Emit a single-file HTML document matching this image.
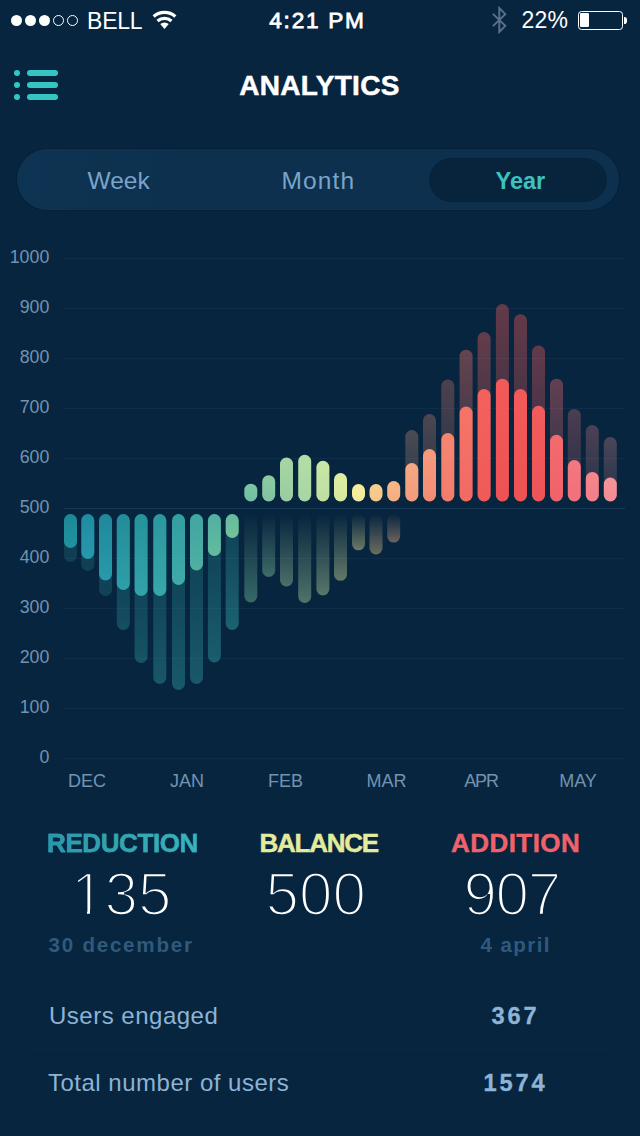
<!DOCTYPE html>
<html lang="en">
<head>
<meta charset="utf-8">
<title>Analytics</title>
<style>
*{margin:0;padding:0;box-sizing:border-box}
html,body{width:640px;height:1136px;overflow:hidden;background:#07253f}
body{font-family:"Liberation Sans",sans-serif;position:relative;color:#fff}
.abs{position:absolute;white-space:nowrap;line-height:1}
.chart{position:absolute;left:0;top:0}
/* status bar */
.dot{position:absolute;top:14.6px;width:11px;height:11px;border-radius:50%;background:#fff}
.dot.hol{background:transparent;border:1px solid #fff}
.carrier{left:87px;top:9.5px;font-size:23px;letter-spacing:-0.2px}
.time{left:0;width:635px;text-align:center;top:9.9px;font-size:22.6px;-webkit-text-stroke:0.8px #fff;letter-spacing:1.75px}
.pct{left:521.5px;top:9.3px;font-size:23px;letter-spacing:0.2px}
.batt{position:absolute;left:578px;top:10.8px;width:45.2px;height:18.8px;border:1.2px solid #fff;border-radius:3.5px}
.batt i{position:absolute;left:1.2px;top:1.2px;bottom:1.2px;width:9.2px;background:#fff;border-radius:1px}
.nub{position:absolute;left:624.3px;top:16.8px;width:2.8px;height:7px;background:#fff;border-radius:0 2.8px 2.8px 0}
/* header */
.title{left:0;width:639px;text-align:center;top:71.7px;font-size:28px;font-weight:bold;-webkit-text-stroke:0.5px #fff;letter-spacing:0.3px}
.menu i{position:absolute;left:14px;width:6.2px;height:6.2px;border-radius:50%;background:#35c5c3}
.menu b{position:absolute;left:26.5px;width:31.5px;height:6.2px;border-radius:3.1px;background:#35c5c3}
/* segmented */
.seg{position:absolute;left:17px;top:149px;width:602px;height:61px;border-radius:30.5px;background:linear-gradient(90deg,#0e3453 0%,#0c304e 30%,#0c304e 100%);box-shadow:0 0 0 1px rgba(4,22,40,0.35)}
.sel{position:absolute;left:429px;top:157.5px;width:178px;height:44px;border-radius:22px;background:#07243c}
.tab{font-size:24.5px;color:#7aa3c8;top:168.8px}
.tab.on{color:#3fc1c0;font-weight:bold;font-size:23.5px;top:169.8px}
/* stats */
.hd{font-size:26px;font-weight:bold;top:830px;-webkit-text-stroke:0.45px currentColor}
.num{font-size:60.2px;top:864.6px;color:#fff;-webkit-text-stroke:2.6px #07253f}
.cv{position:absolute;top:909.4px;height:7px;background:#07253f}
.sub{font-size:20.6px;font-weight:bold;color:#2f5a7c;top:934.6px}
.row{font-size:24px;color:#8db3d5;letter-spacing:0.5px}
.val{font-size:23.6px;font-weight:bold;color:#8db3d5;text-align:center;width:120px;left:455.6px;letter-spacing:2.9px;-webkit-text-stroke:0.35px #8db3d5}
.sep{position:absolute;left:32px;width:576px;height:1px;background:#6fa0c8;opacity:0.04}
</style>
</head>
<body>
<svg class="chart" width="640" height="1136" viewBox="0 0 640 1136">
<defs>
<linearGradient id="glow" gradientUnits="userSpaceOnUse" x1="0" y1="514" x2="0" y2="690"><stop offset="0" stop-color="#35b0b2" stop-opacity="0.10"/><stop offset="0.45" stop-color="#35b0b2" stop-opacity="0.33"/><stop offset="1" stop-color="#35b0b2" stop-opacity="0.40"/></linearGradient>
<linearGradient id="b1" x1="0" y1="0" x2="0" y2="1"><stop offset="0" stop-color="#1e8894" stop-opacity="1"/><stop offset="1" stop-color="#2092a3" stop-opacity="1"/></linearGradient>
<linearGradient id="g1" gradientUnits="userSpaceOnUse" x1="0" y1="548" x2="0" y2="562"><stop offset="0" stop-color="#35b0b2" stop-opacity="0.18"/><stop offset="1" stop-color="#35b0b2" stop-opacity="0.18"/></linearGradient>
<linearGradient id="b2" x1="0" y1="0" x2="0" y2="1"><stop offset="0" stop-color="#1f8ba0" stop-opacity="1"/><stop offset="1" stop-color="#2898ae" stop-opacity="1"/></linearGradient>
<linearGradient id="g2" gradientUnits="userSpaceOnUse" x1="0" y1="559" x2="0" y2="571"><stop offset="0" stop-color="#35b0b2" stop-opacity="0.19"/><stop offset="1" stop-color="#35b0b2" stop-opacity="0.19"/></linearGradient>
<linearGradient id="b3" x1="0" y1="0" x2="0" y2="1"><stop offset="0" stop-color="#1f889a" stop-opacity="1"/><stop offset="1" stop-color="#289aaa" stop-opacity="1"/></linearGradient>
<linearGradient id="g3" gradientUnits="userSpaceOnUse" x1="0" y1="580.5" x2="0" y2="596"><stop offset="0" stop-color="#35b0b2" stop-opacity="0.21"/><stop offset="1" stop-color="#35b0b2" stop-opacity="0.21"/></linearGradient>
<linearGradient id="b4" x1="0" y1="0" x2="0" y2="1"><stop offset="0" stop-color="#228d9a" stop-opacity="1"/><stop offset="1" stop-color="#2d9fa8" stop-opacity="1"/></linearGradient>
<linearGradient id="g4" gradientUnits="userSpaceOnUse" x1="0" y1="590" x2="0" y2="630"><stop offset="0" stop-color="#35b0b2" stop-opacity="0.23"/><stop offset="1" stop-color="#35b0b2" stop-opacity="0.3"/></linearGradient>
<linearGradient id="b5" x1="0" y1="0" x2="0" y2="1"><stop offset="0" stop-color="#25929c" stop-opacity="1"/><stop offset="1" stop-color="#32a3a8" stop-opacity="1"/></linearGradient>
<linearGradient id="g5" gradientUnits="userSpaceOnUse" x1="0" y1="596" x2="0" y2="663"><stop offset="0" stop-color="#35b0b2" stop-opacity="0.23"/><stop offset="1" stop-color="#35b0b2" stop-opacity="0.33"/></linearGradient>
<linearGradient id="b6" x1="0" y1="0" x2="0" y2="1"><stop offset="0" stop-color="#2b979f" stop-opacity="1"/><stop offset="1" stop-color="#37a7a9" stop-opacity="1"/></linearGradient>
<linearGradient id="g6" gradientUnits="userSpaceOnUse" x1="0" y1="596" x2="0" y2="684"><stop offset="0" stop-color="#35b0b2" stop-opacity="0.23"/><stop offset="1" stop-color="#35b0b2" stop-opacity="0.36"/></linearGradient>
<linearGradient id="b7" x1="0" y1="0" x2="0" y2="1"><stop offset="0" stop-color="#339da1" stop-opacity="1"/><stop offset="1" stop-color="#3faaa8" stop-opacity="1"/></linearGradient>
<linearGradient id="g7" gradientUnits="userSpaceOnUse" x1="0" y1="585" x2="0" y2="690"><stop offset="0" stop-color="#35b0b2" stop-opacity="0.23"/><stop offset="1" stop-color="#35b0b2" stop-opacity="0.37"/></linearGradient>
<linearGradient id="b8" x1="0" y1="0" x2="0" y2="1"><stop offset="0" stop-color="#41a5a2" stop-opacity="1"/><stop offset="1" stop-color="#4fb0a2" stop-opacity="1"/></linearGradient>
<linearGradient id="g8" gradientUnits="userSpaceOnUse" x1="0" y1="570.5" x2="0" y2="684"><stop offset="0" stop-color="#35b0b2" stop-opacity="0.23"/><stop offset="1" stop-color="#35b0b2" stop-opacity="0.37"/></linearGradient>
<linearGradient id="b9" x1="0" y1="0" x2="0" y2="1"><stop offset="0" stop-color="#52b0a2" stop-opacity="1"/><stop offset="1" stop-color="#62bc9e" stop-opacity="1"/></linearGradient>
<linearGradient id="g9" gradientUnits="userSpaceOnUse" x1="0" y1="556" x2="0" y2="662.5"><stop offset="0" stop-color="#35b0b2" stop-opacity="0.23"/><stop offset="1" stop-color="#35b0b2" stop-opacity="0.4"/></linearGradient>
<linearGradient id="b10" x1="0" y1="0" x2="0" y2="1"><stop offset="0" stop-color="#64ba9e" stop-opacity="1"/><stop offset="1" stop-color="#74c498" stop-opacity="1"/></linearGradient>
<linearGradient id="g10" gradientUnits="userSpaceOnUse" x1="0" y1="538" x2="0" y2="630"><stop offset="0" stop-color="#35b0b2" stop-opacity="0.23"/><stop offset="1" stop-color="#35b0b2" stop-opacity="0.44"/></linearGradient>
<linearGradient id="b11" x1="0" y1="0" x2="0" y2="1"><stop offset="0" stop-color="#7cc6a0" stop-opacity="1"/><stop offset="1" stop-color="#70bea4" stop-opacity="1"/></linearGradient>
<linearGradient id="g11" x1="0" y1="0" x2="0" y2="1"><stop offset="0" stop-color="#7cc6a0" stop-opacity="0.0"/><stop offset="1" stop-color="#7cc6a0" stop-opacity="0.42"/></linearGradient>
<linearGradient id="b12" x1="0" y1="0" x2="0" y2="1"><stop offset="0" stop-color="#8ccba0" stop-opacity="1"/><stop offset="1" stop-color="#82c2a5" stop-opacity="1"/></linearGradient>
<linearGradient id="g12" x1="0" y1="0" x2="0" y2="1"><stop offset="0" stop-color="#8ccba0" stop-opacity="0.0"/><stop offset="1" stop-color="#8ccba0" stop-opacity="0.42"/></linearGradient>
<linearGradient id="b13" x1="0" y1="0" x2="0" y2="1"><stop offset="0" stop-color="#a6d6a2" stop-opacity="1"/><stop offset="1" stop-color="#9acca4" stop-opacity="1"/></linearGradient>
<linearGradient id="g13" x1="0" y1="0" x2="0" y2="1"><stop offset="0" stop-color="#a6d6a2" stop-opacity="0.0"/><stop offset="1" stop-color="#a6d6a2" stop-opacity="0.42"/></linearGradient>
<linearGradient id="b14" x1="0" y1="0" x2="0" y2="1"><stop offset="0" stop-color="#b5dea5" stop-opacity="1"/><stop offset="1" stop-color="#a8d5a5" stop-opacity="1"/></linearGradient>
<linearGradient id="g14" x1="0" y1="0" x2="0" y2="1"><stop offset="0" stop-color="#b5dea5" stop-opacity="0.0"/><stop offset="1" stop-color="#b5dea5" stop-opacity="0.42"/></linearGradient>
<linearGradient id="b15" x1="0" y1="0" x2="0" y2="1"><stop offset="0" stop-color="#c9e6a3" stop-opacity="1"/><stop offset="1" stop-color="#bfdfa3" stop-opacity="1"/></linearGradient>
<linearGradient id="g15" x1="0" y1="0" x2="0" y2="1"><stop offset="0" stop-color="#c9e6a3" stop-opacity="0.0"/><stop offset="1" stop-color="#c9e6a3" stop-opacity="0.42"/></linearGradient>
<linearGradient id="b16" x1="0" y1="0" x2="0" y2="1"><stop offset="0" stop-color="#e0eda0" stop-opacity="1"/><stop offset="1" stop-color="#d5e8a0" stop-opacity="1"/></linearGradient>
<linearGradient id="g16" x1="0" y1="0" x2="0" y2="1"><stop offset="0" stop-color="#e0eda0" stop-opacity="0.0"/><stop offset="1" stop-color="#e0eda0" stop-opacity="0.42"/></linearGradient>
<linearGradient id="b17" x1="0" y1="0" x2="0" y2="1"><stop offset="0" stop-color="#f7ee9a" stop-opacity="1"/><stop offset="1" stop-color="#f0e8a0" stop-opacity="1"/></linearGradient>
<linearGradient id="g17" x1="0" y1="0" x2="0" y2="1"><stop offset="0" stop-color="#f7ee9a" stop-opacity="0.0"/><stop offset="1" stop-color="#f7ee9a" stop-opacity="0.42"/></linearGradient>
<linearGradient id="b18" x1="0" y1="0" x2="0" y2="1"><stop offset="0" stop-color="#f9cf8c" stop-opacity="1"/><stop offset="1" stop-color="#f5c48a" stop-opacity="1"/></linearGradient>
<linearGradient id="g18" x1="0" y1="0" x2="0" y2="1"><stop offset="0" stop-color="#f9cf8c" stop-opacity="0.0"/><stop offset="1" stop-color="#f9cf8c" stop-opacity="0.42"/></linearGradient>
<linearGradient id="b19" x1="0" y1="0" x2="0" y2="1"><stop offset="0" stop-color="#f8b886" stop-opacity="1"/><stop offset="1" stop-color="#f3ad80" stop-opacity="1"/></linearGradient>
<linearGradient id="g19" x1="0" y1="0" x2="0" y2="1"><stop offset="0" stop-color="#f8b886" stop-opacity="0.0"/><stop offset="1" stop-color="#f8b886" stop-opacity="0.42"/></linearGradient>
<linearGradient id="b20" x1="0" y1="0" x2="0" y2="1"><stop offset="0" stop-color="#f6a884" stop-opacity="1"/><stop offset="1" stop-color="#f29c7c" stop-opacity="1"/></linearGradient>
<linearGradient id="g20" x1="0" y1="0" x2="0" y2="1"><stop offset="0" stop-color="#f6a884" stop-opacity="0.29"/><stop offset="1" stop-color="#f6a884" stop-opacity="0.12"/></linearGradient>
<linearGradient id="b21" x1="0" y1="0" x2="0" y2="1"><stop offset="0" stop-color="#f59a7c" stop-opacity="1"/><stop offset="1" stop-color="#f28c74" stop-opacity="1"/></linearGradient>
<linearGradient id="g21" x1="0" y1="0" x2="0" y2="1"><stop offset="0" stop-color="#f59a7c" stop-opacity="0.29"/><stop offset="1" stop-color="#f59a7c" stop-opacity="0.12"/></linearGradient>
<linearGradient id="b22" x1="0" y1="0" x2="0" y2="1"><stop offset="0" stop-color="#f58670" stop-opacity="1"/><stop offset="1" stop-color="#f27c6c" stop-opacity="1"/></linearGradient>
<linearGradient id="g22" x1="0" y1="0" x2="0" y2="1"><stop offset="0" stop-color="#f58670" stop-opacity="0.29"/><stop offset="1" stop-color="#f58670" stop-opacity="0.12"/></linearGradient>
<linearGradient id="b23" x1="0" y1="0" x2="0" y2="1"><stop offset="0" stop-color="#f57468" stop-opacity="1"/><stop offset="1" stop-color="#f26a62" stop-opacity="1"/></linearGradient>
<linearGradient id="g23" x1="0" y1="0" x2="0" y2="1"><stop offset="0" stop-color="#f57468" stop-opacity="0.39"/><stop offset="1" stop-color="#f57468" stop-opacity="0.15"/></linearGradient>
<linearGradient id="b24" x1="0" y1="0" x2="0" y2="1"><stop offset="0" stop-color="#f4625c" stop-opacity="1"/><stop offset="1" stop-color="#f05a58" stop-opacity="1"/></linearGradient>
<linearGradient id="g24" x1="0" y1="0" x2="0" y2="1"><stop offset="0" stop-color="#f4625c" stop-opacity="0.39"/><stop offset="1" stop-color="#f4625c" stop-opacity="0.15"/></linearGradient>
<linearGradient id="b25" x1="0" y1="0" x2="0" y2="1"><stop offset="0" stop-color="#f25a58" stop-opacity="1"/><stop offset="1" stop-color="#ee5254" stop-opacity="1"/></linearGradient>
<linearGradient id="g25" x1="0" y1="0" x2="0" y2="1"><stop offset="0" stop-color="#f25a58" stop-opacity="0.39"/><stop offset="1" stop-color="#f25a58" stop-opacity="0.15"/></linearGradient>
<linearGradient id="b26" x1="0" y1="0" x2="0" y2="1"><stop offset="0" stop-color="#f25a58" stop-opacity="1"/><stop offset="1" stop-color="#ee5254" stop-opacity="1"/></linearGradient>
<linearGradient id="g26" x1="0" y1="0" x2="0" y2="1"><stop offset="0" stop-color="#f25a58" stop-opacity="0.39"/><stop offset="1" stop-color="#f25a58" stop-opacity="0.15"/></linearGradient>
<linearGradient id="b27" x1="0" y1="0" x2="0" y2="1"><stop offset="0" stop-color="#f25c5c" stop-opacity="1"/><stop offset="1" stop-color="#ee5458" stop-opacity="1"/></linearGradient>
<linearGradient id="g27" x1="0" y1="0" x2="0" y2="1"><stop offset="0" stop-color="#f25c5c" stop-opacity="0.39"/><stop offset="1" stop-color="#f25c5c" stop-opacity="0.15"/></linearGradient>
<linearGradient id="b28" x1="0" y1="0" x2="0" y2="1"><stop offset="0" stop-color="#f36a6e" stop-opacity="1"/><stop offset="1" stop-color="#f0626a" stop-opacity="1"/></linearGradient>
<linearGradient id="g28" x1="0" y1="0" x2="0" y2="1"><stop offset="0" stop-color="#f36a6e" stop-opacity="0.39"/><stop offset="1" stop-color="#f36a6e" stop-opacity="0.15"/></linearGradient>
<linearGradient id="b29" x1="0" y1="0" x2="0" y2="1"><stop offset="0" stop-color="#f4787e" stop-opacity="1"/><stop offset="1" stop-color="#f2707a" stop-opacity="1"/></linearGradient>
<linearGradient id="g29" x1="0" y1="0" x2="0" y2="1"><stop offset="0" stop-color="#f4787e" stop-opacity="0.29"/><stop offset="1" stop-color="#f4787e" stop-opacity="0.12"/></linearGradient>
<linearGradient id="b30" x1="0" y1="0" x2="0" y2="1"><stop offset="0" stop-color="#f5868c" stop-opacity="1"/><stop offset="1" stop-color="#f47e88" stop-opacity="1"/></linearGradient>
<linearGradient id="g30" x1="0" y1="0" x2="0" y2="1"><stop offset="0" stop-color="#f5868c" stop-opacity="0.29"/><stop offset="1" stop-color="#f5868c" stop-opacity="0.12"/></linearGradient>
<linearGradient id="b31" x1="0" y1="0" x2="0" y2="1"><stop offset="0" stop-color="#f69498" stop-opacity="1"/><stop offset="1" stop-color="#f48c94" stop-opacity="1"/></linearGradient>
<linearGradient id="g31" x1="0" y1="0" x2="0" y2="1"><stop offset="0" stop-color="#f69498" stop-opacity="0.29"/><stop offset="1" stop-color="#f69498" stop-opacity="0.12"/></linearGradient>
</defs>
<g><rect x="64" y="258" width="561" height="1" fill="#6fa0c8" opacity="0.07"/>
<rect x="64" y="308" width="561" height="1" fill="#6fa0c8" opacity="0.07"/>
<rect x="64" y="358" width="561" height="1" fill="#6fa0c8" opacity="0.07"/>
<rect x="64" y="408" width="561" height="1" fill="#6fa0c8" opacity="0.07"/>
<rect x="64" y="458" width="561" height="1" fill="#6fa0c8" opacity="0.07"/>
<rect x="64" y="508" width="561" height="1" fill="#6fa0c8" opacity="0.17"/>
<rect x="64" y="558" width="561" height="1" fill="#6fa0c8" opacity="0.07"/>
<rect x="64" y="608" width="561" height="1" fill="#6fa0c8" opacity="0.07"/>
<rect x="64" y="658" width="561" height="1" fill="#6fa0c8" opacity="0.07"/>
<rect x="64" y="708" width="561" height="1" fill="#6fa0c8" opacity="0.07"/>
<rect x="64" y="758" width="561" height="1" fill="#6fa0c8" opacity="0.07"/></g>
<g font-family="Liberation Sans, sans-serif" font-size="17.8" fill="#7393af"><text x="49.3" y="262.6" text-anchor="end">1000</text>
<text x="49.3" y="312.6" text-anchor="end">900</text>
<text x="49.3" y="362.6" text-anchor="end">800</text>
<text x="49.3" y="412.6" text-anchor="end">700</text>
<text x="49.3" y="462.6" text-anchor="end">600</text>
<text x="49.3" y="512.6" text-anchor="end">500</text>
<text x="49.3" y="562.6" text-anchor="end">400</text>
<text x="49.3" y="612.6" text-anchor="end">300</text>
<text x="49.3" y="662.6" text-anchor="end">200</text>
<text x="49.3" y="712.6" text-anchor="end">100</text>
<text x="49.3" y="762.6" text-anchor="end">0</text></g>
<g font-family="Liberation Sans, sans-serif" font-size="18" fill="#7393af"><text x="87" y="786.7" text-anchor="middle">DEC</text>
<text x="187" y="786.7" text-anchor="middle">JAN</text>
<text x="285.5" y="786.7" text-anchor="middle">FEB</text>
<text x="386.5" y="786.7" text-anchor="middle">MAR</text>
<text x="481" y="786.7" text-anchor="middle" letter-spacing="-1.2">APR</text>
<text x="578" y="786.7" text-anchor="middle">MAY</text></g>
<g><rect x="64" y="514" width="13" height="48" rx="6.5" fill="url(#g1)"/>
<rect x="81.3" y="514" width="13" height="57" rx="6.5" fill="url(#g2)"/>
<rect x="99" y="514" width="13" height="82" rx="6.5" fill="url(#g3)"/>
<rect x="116.8" y="514" width="13" height="116" rx="6.5" fill="url(#g4)"/>
<rect x="134.6" y="514" width="13" height="149" rx="6.5" fill="url(#g5)"/>
<rect x="153.3" y="514" width="13" height="170" rx="6.5" fill="url(#g6)"/>
<rect x="172" y="514" width="13" height="176" rx="6.5" fill="url(#g7)"/>
<rect x="190" y="514" width="13" height="170" rx="6.5" fill="url(#g8)"/>
<rect x="207.9" y="514" width="13" height="148.5" rx="6.5" fill="url(#g9)"/>
<rect x="225.7" y="514" width="13" height="116" rx="6.5" fill="url(#g10)"/>
<rect x="244.3" y="514" width="13" height="88.5" rx="6.5" fill="url(#g11)"/>
<rect x="262.2" y="514" width="13" height="63" rx="6.5" fill="url(#g12)"/>
<rect x="280" y="514" width="13" height="72.5" rx="6.5" fill="url(#g13)"/>
<rect x="298.2" y="514" width="13" height="89" rx="6.5" fill="url(#g14)"/>
<rect x="316.4" y="514" width="13" height="81.5" rx="6.5" fill="url(#g15)"/>
<rect x="334" y="514" width="13" height="66.8" rx="6.5" fill="url(#g16)"/>
<rect x="352" y="514" width="13" height="36.3" rx="6.5" fill="url(#g17)"/>
<rect x="369.5" y="514" width="13" height="40.5" rx="6.5" fill="url(#g18)"/>
<rect x="387.2" y="514" width="13" height="28.6" rx="6.5" fill="url(#g19)"/>
<rect x="405.3" y="430" width="13" height="71.5" rx="6.5" fill="url(#g20)"/>
<rect x="423" y="414" width="13" height="87.5" rx="6.5" fill="url(#g21)"/>
<rect x="441.3" y="379.4" width="13" height="122.1" rx="6.5" fill="url(#g22)"/>
<rect x="459.6" y="349.7" width="13" height="151.8" rx="6.5" fill="url(#g23)"/>
<rect x="477.6" y="332" width="13" height="169.5" rx="6.5" fill="url(#g24)"/>
<rect x="495.9" y="304" width="13" height="197.5" rx="6.5" fill="url(#g25)"/>
<rect x="514" y="314.2" width="13" height="187.3" rx="6.5" fill="url(#g26)"/>
<rect x="532" y="345.6" width="13" height="155.9" rx="6.5" fill="url(#g27)"/>
<rect x="550" y="378.7" width="13" height="122.8" rx="6.5" fill="url(#g28)"/>
<rect x="567.8" y="408.9" width="13" height="92.6" rx="6.5" fill="url(#g29)"/>
<rect x="585.8" y="425" width="13" height="76.5" rx="6.5" fill="url(#g30)"/>
<rect x="603.8" y="437" width="13" height="64.5" rx="6.5" fill="url(#g31)"/></g>
<g><rect x="64" y="514" width="13" height="34" rx="6.5" fill="url(#b1)"/>
<rect x="81.3" y="514" width="13" height="45" rx="6.5" fill="url(#b2)"/>
<rect x="99" y="514" width="13" height="66.5" rx="6.5" fill="url(#b3)"/>
<rect x="116.8" y="514" width="13" height="76" rx="6.5" fill="url(#b4)"/>
<rect x="134.6" y="514" width="13" height="82" rx="6.5" fill="url(#b5)"/>
<rect x="153.3" y="514" width="13" height="82" rx="6.5" fill="url(#b6)"/>
<rect x="172" y="514" width="13" height="71" rx="6.5" fill="url(#b7)"/>
<rect x="190" y="514" width="13" height="56.5" rx="6.5" fill="url(#b8)"/>
<rect x="207.9" y="514" width="13" height="42" rx="6.5" fill="url(#b9)"/>
<rect x="225.7" y="514" width="13" height="24" rx="6.5" fill="url(#b10)"/>
<rect x="244.3" y="483.7" width="13" height="17.8" rx="6.5" fill="url(#b11)"/>
<rect x="262.2" y="475.2" width="13" height="26.3" rx="6.5" fill="url(#b12)"/>
<rect x="280" y="457.5" width="13" height="44" rx="6.5" fill="url(#b13)"/>
<rect x="298.2" y="454.8" width="13" height="46.7" rx="6.5" fill="url(#b14)"/>
<rect x="316.4" y="460.8" width="13" height="40.7" rx="6.5" fill="url(#b15)"/>
<rect x="334" y="473.1" width="13" height="28.4" rx="6.5" fill="url(#b16)"/>
<rect x="352" y="484" width="13" height="17.5" rx="6.5" fill="url(#b17)"/>
<rect x="369.5" y="484" width="13" height="17.5" rx="6.5" fill="url(#b18)"/>
<rect x="387.2" y="481" width="13" height="20.5" rx="6.5" fill="url(#b19)"/>
<rect x="405.3" y="463" width="13" height="38.5" rx="6.5" fill="url(#b20)"/>
<rect x="423" y="449" width="13" height="52.5" rx="6.5" fill="url(#b21)"/>
<rect x="441.3" y="433" width="13" height="68.5" rx="6.5" fill="url(#b22)"/>
<rect x="459.6" y="406.6" width="13" height="94.9" rx="6.5" fill="url(#b23)"/>
<rect x="477.6" y="389" width="13" height="112.5" rx="6.5" fill="url(#b24)"/>
<rect x="495.9" y="378.7" width="13" height="122.8" rx="6.5" fill="url(#b25)"/>
<rect x="514" y="389" width="13" height="112.5" rx="6.5" fill="url(#b26)"/>
<rect x="532" y="405.8" width="13" height="95.7" rx="6.5" fill="url(#b27)"/>
<rect x="550" y="434.8" width="13" height="66.7" rx="6.5" fill="url(#b28)"/>
<rect x="567.8" y="460" width="13" height="41.5" rx="6.5" fill="url(#b29)"/>
<rect x="585.8" y="471.9" width="13" height="29.6" rx="6.5" fill="url(#b30)"/>
<rect x="603.8" y="477.6" width="13" height="23.9" rx="6.5" fill="url(#b31)"/></g>
</svg>
<!-- status bar -->
<span class="dot" style="left:10.6px"></span><span class="dot" style="left:24.6px"></span><span class="dot" style="left:38.6px"></span><span class="dot hol" style="left:52.6px"></span><span class="dot hol" style="left:66.8px"></span>
<span class="abs carrier">BELL</span>
<svg class="abs" style="left:152px;top:10px" width="25" height="20" viewBox="0 0 25 20"><g fill="none" stroke="#fff" stroke-width="3.2"><path d="M1.64 6.51 A16.55 16.55 0 0 1 23.36 6.51"/><path d="M5.51 10.96 A10.65 10.65 0 0 1 19.49 10.96"/></g><path d="M12.5 19.0 L8.24 14.09 A6.5 6.5 0 0 1 16.76 14.09 Z" fill="#fff"/></svg>
<span class="abs time">4:21 PM</span>
<svg class="abs" style="left:491px;top:6px" width="17" height="28" viewBox="0 0 17 28"><path d="M1.9 7.9 L14.3 19.8 L8.3 26 L8.3 2 L14.3 8.2 L1.9 20.1" fill="none" stroke="#5b7189" stroke-width="1.9" stroke-linejoin="miter"/></svg>
<span class="abs pct">22%</span>
<span class="batt"><i></i></span><span class="nub"></span>
<!-- header -->
<div class="menu"><i style="top:70px"></i><b style="top:70px"></b><i style="top:82px"></i><b style="top:82px"></b><i style="top:94px"></i><b style="top:94px"></b></div>
<span class="abs title">ANALYTICS</span>
<!-- segmented control -->
<div class="seg"></div><div class="sel"></div>
<span class="abs tab" style="left:87.5px">Week</span>
<span class="abs tab" style="left:281.6px;letter-spacing:1.1px">Month</span>
<span class="abs tab on" style="left:495.5px">Year</span>
<!-- stats -->
<span class="abs hd" style="left:47px;color:#2fa3b4;letter-spacing:-0.4px;background:linear-gradient(90deg,#2a96aa,#39b6ba);-webkit-background-clip:text;background-clip:text;-webkit-text-fill-color:transparent;-webkit-text-stroke-color:#32a6b2">REDUCTION</span>
<span class="abs hd" style="left:259.5px;color:#e3ec9c;letter-spacing:-1.25px">BALANCE</span>
<span class="abs hd" style="left:451px;color:#f0626a;letter-spacing:0.45px">ADDITION</span>
<span class="abs num" style="left:71px">135</span>
<i class="cv" style="left:73px;width:13.7px"></i><i class="cv" style="left:90.3px;width:12px"></i>
<span class="abs num" style="left:265.5px">500</span>
<span class="abs num" style="left:463.5px;letter-spacing:-1.4px">907</span>
<span class="abs sub" style="left:48.5px;letter-spacing:1.75px">30 december</span>
<span class="abs sub" style="left:480.5px;letter-spacing:1.4px">4 april</span>
<span class="abs row" style="left:49px;top:1004.3px">Users engaged</span>
<span class="abs val" style="top:1005.2px">367</span>
<div class="sep" style="top:1049px"></div>
<span class="abs row" style="left:48px;top:1070.9px">Total number of users</span>
<span class="abs val" style="top:1072.2px">1574</span>
</body>
</html>
